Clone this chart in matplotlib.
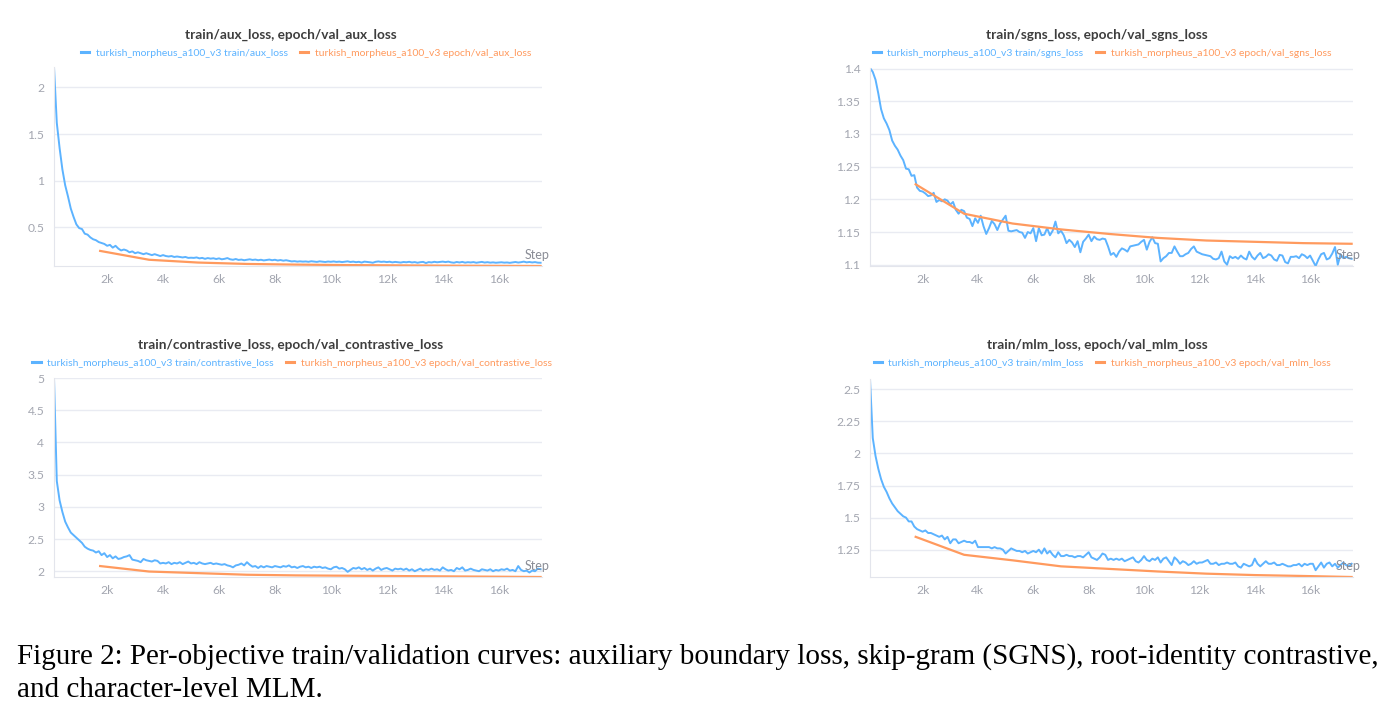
import numpy as np
import matplotlib
matplotlib.use("Agg")
import matplotlib.pyplot as plt
from matplotlib.ticker import FuncFormatter

plt.rcParams['font.family'] = ['Lato', 'DejaVu Sans']

# steps of the logged train values (every 100 steps) and of the validation epochs
train_steps = np.arange(100, 17600, 100)
val_steps = [1750, 3500, 5250, 7000, 8750, 10500, 12250, 14000, 15750, 17500]

aux_train = [
    2.22, 1.62, 1.35, 1.12, 0.95, 0.83, 0.70, 0.61, 0.53, 0.49,
    0.48, 0.43, 0.42, 0.39, 0.37, 0.36, 0.34, 0.33, 0.32, 0.30,
    0.31, 0.28, 0.30, 0.27, 0.25, 0.26, 0.25, 0.23, 0.24, 0.22,
    0.23, 0.22, 0.21, 0.22, 0.21, 0.20, 0.21, 0.20, 0.19, 0.20,
    0.19, 0.185, 0.19, 0.18, 0.185, 0.18, 0.175, 0.18, 0.17, 0.172,
    0.17, 0.175, 0.165, 0.17, 0.16, 0.168, 0.162, 0.166, 0.158, 0.165,
    0.155, 0.16, 0.168, 0.155, 0.15, 0.158, 0.148, 0.152, 0.145, 0.15,
    0.155, 0.148, 0.152, 0.145, 0.15, 0.143, 0.148, 0.152, 0.145, 0.15,
    0.142, 0.147, 0.14, 0.145, 0.138, 0.132, 0.135, 0.13, 0.133, 0.13,
    0.132, 0.128, 0.134, 0.13, 0.127, 0.133, 0.129, 0.126, 0.131, 0.128,
    0.132, 0.127, 0.13, 0.125, 0.129, 0.133, 0.126, 0.13, 0.124, 0.128,
    0.12, 0.13, 0.127, 0.123, 0.118, 0.128, 0.132, 0.127, 0.13, 0.125,
    0.129, 0.122, 0.127, 0.124, 0.12, 0.126, 0.123, 0.128, 0.121, 0.125,
    0.118, 0.124, 0.127, 0.115, 0.125, 0.121, 0.128, 0.123, 0.126, 0.13,
    0.125, 0.13, 0.122, 0.118, 0.126, 0.121, 0.127, 0.119, 0.124, 0.121,
    0.125, 0.118, 0.123, 0.127, 0.12, 0.124, 0.119, 0.122, 0.118, 0.12,
    0.123, 0.119, 0.121, 0.117, 0.122, 0.126, 0.12, 0.124, 0.13, 0.122,
    0.126, 0.121, 0.125, 0.119, 0.118,
]
aux_val = [0.245, 0.15, 0.12, 0.105, 0.098, 0.093, 0.09, 0.087, 0.085, 0.083]

sgns_train = [
    1.401, 1.395, 1.383, 1.362, 1.338, 1.324, 1.316, 1.306, 1.29, 1.282,
    1.276, 1.267, 1.26, 1.247, 1.246, 1.236, 1.237, 1.218, 1.213, 1.212,
    1.209, 1.205, 1.206, 1.21, 1.196, 1.199, 1.197, 1.2, 1.198, 1.192,
    1.196, 1.184, 1.178, 1.184, 1.182, 1.172, 1.17, 1.159, 1.171, 1.164,
    1.175, 1.159, 1.147, 1.156, 1.167, 1.162, 1.153, 1.163, 1.169, 1.175,
    1.152, 1.151, 1.152, 1.153, 1.15, 1.149, 1.141, 1.15, 1.148, 1.156,
    1.136, 1.156, 1.145, 1.146, 1.156, 1.145, 1.152, 1.166, 1.148, 1.152,
    1.145, 1.133, 1.138, 1.134, 1.127, 1.136, 1.119, 1.135, 1.14, 1.146,
    1.136, 1.143, 1.139, 1.138, 1.14, 1.139, 1.128, 1.115, 1.118, 1.112,
    1.12, 1.125, 1.123, 1.12, 1.128, 1.129, 1.13, 1.131, 1.135, 1.138,
    1.123, 1.135, 1.142, 1.133, 1.132, 1.105, 1.11, 1.113, 1.118, 1.118,
    1.128, 1.12, 1.113, 1.113, 1.116, 1.118, 1.124, 1.128, 1.12, 1.118,
    1.116, 1.115, 1.114, 1.113, 1.109, 1.108, 1.11, 1.12, 1.105, 1.1,
    1.113, 1.11, 1.112, 1.109, 1.114, 1.11, 1.108, 1.12, 1.112, 1.108,
    1.114, 1.118, 1.11, 1.112, 1.116, 1.114, 1.108, 1.106, 1.115, 1.114,
    1.104, 1.102, 1.112, 1.112, 1.113, 1.11, 1.116, 1.114, 1.11, 1.114,
    1.106, 1.098, 1.108, 1.116, 1.118, 1.108, 1.11, 1.117, 1.127, 1.1,
    1.116, 1.11, 1.112, 1.11, 1.109,
]
sgns_val = [1.223, 1.178, 1.163, 1.154, 1.147, 1.141, 1.137, 1.135, 1.133, 1.132]

contrastive_train = [
    5.0, 3.4, 3.1, 2.92, 2.77, 2.68, 2.6, 2.56, 2.52, 2.48,
    2.44, 2.38, 2.35, 2.33, 2.32, 2.29, 2.31, 2.25, 2.28, 2.22,
    2.25, 2.2, 2.23, 2.19, 2.2, 2.22, 2.23, 2.25, 2.18, 2.17,
    2.16, 2.14, 2.19, 2.17, 2.16, 2.15, 2.17, 2.16, 2.12, 2.13,
    2.12, 2.14, 2.11, 2.13, 2.12, 2.14, 2.11, 2.13, 2.15, 2.12,
    2.13, 2.11, 2.14, 2.12, 2.11, 2.12, 2.13, 2.11, 2.12, 2.11,
    2.1, 2.11, 2.09, 2.08, 2.06, 2.09, 2.1, 2.12, 2.09, 2.14,
    2.1, 2.07, 2.08, 2.05, 2.08, 2.06, 2.08, 2.07, 2.06, 2.08,
    2.07, 2.06, 2.08, 2.07, 2.09, 2.06, 2.07, 2.05, 2.07, 2.08,
    2.06, 2.07, 2.05, 2.07, 2.06, 2.07, 2.05, 2.06, 2.04, 2.03,
    2.06, 2.07, 2.04, 2.05, 2.03, 1.99, 2.02, 2.05, 2.04, 2.06,
    2.03, 2.05, 2.02, 2.04, 2.01, 2.04, 2.06, 2.02, 2.04, 2.05,
    2.03, 2.01, 2.04, 2.03, 2.04, 2.02, 2.04, 2.01, 2.03, 2.0,
    2.02, 2.04, 2.01, 2.03, 2.02, 2.04, 2.02, 2.03, 2.01, 2.06,
    2.03, 2.01, 2.02, 2.0, 2.05, 2.03, 2.06, 2.01, 2.02, 2.04,
    2.02, 2.01, 2.0, 2.03, 2.02, 2.01, 2.03, 2.0, 2.02, 2.01,
    2.03, 2.02, 2.04, 2.01, 2.02, 2.0, 2.08, 2.02, 2.0, 2.01,
    1.98, 2.01, 2.0, 2.04, 2.03,
]
contrastive_val = [2.08, 1.995, 1.97, 1.945, 1.935, 1.93, 1.925, 1.92, 1.915, 1.91]

mlm_train = [
    2.58, 2.12, 1.98, 1.88, 1.8, 1.74, 1.7, 1.65, 1.61, 1.58,
    1.55, 1.53, 1.51, 1.5, 1.47, 1.47, 1.43, 1.41, 1.40, 1.39,
    1.40, 1.38, 1.38, 1.37, 1.36, 1.35, 1.36, 1.33, 1.35, 1.30,
    1.33, 1.33, 1.3, 1.31, 1.32, 1.31, 1.31, 1.3, 1.32, 1.27,
    1.27, 1.27, 1.27, 1.27, 1.26, 1.27, 1.26, 1.26, 1.25, 1.22,
    1.24, 1.26, 1.25, 1.24, 1.24, 1.23, 1.24, 1.22, 1.23, 1.24,
    1.23, 1.25, 1.22, 1.26, 1.22, 1.24, 1.21, 1.19, 1.23, 1.2,
    1.2, 1.21, 1.2, 1.2, 1.19, 1.2, 1.2, 1.19, 1.21, 1.23,
    1.19, 1.18, 1.17, 1.19, 1.22, 1.21, 1.17, 1.18, 1.17, 1.18,
    1.17, 1.18, 1.16, 1.17, 1.18, 1.19, 1.16, 1.15, 1.17, 1.2,
    1.17, 1.16, 1.18, 1.17, 1.19, 1.15, 1.18, 1.19, 1.16, 1.13,
    1.19, 1.17, 1.14, 1.16, 1.15, 1.13, 1.14, 1.16, 1.14, 1.15,
    1.15, 1.16, 1.17, 1.14, 1.14, 1.15, 1.13, 1.14, 1.14, 1.15,
    1.14, 1.14, 1.15, 1.12, 1.11, 1.14, 1.13, 1.12, 1.13, 1.18,
    1.14, 1.12, 1.14, 1.16, 1.14, 1.14, 1.15, 1.13, 1.13, 1.14,
    1.13, 1.12, 1.12, 1.13, 1.13, 1.14, 1.12, 1.14, 1.13, 1.14,
    1.14, 1.09, 1.12, 1.15, 1.11, 1.14, 1.15, 1.12, 1.14, 1.11,
    1.13, 1.15, 1.13, 1.12, 1.14,
]
mlm_val = [1.35, 1.21, 1.167, 1.12, 1.1, 1.08, 1.063, 1.052, 1.045, 1.037]

run = "turkish_morpheus_a100_v3"
panels = [
    ("aux_loss", aux_train, aux_val, [0.5, 1, 1.5, 2]),
    ("sgns_loss", sgns_train, sgns_val, [1.1, 1.15, 1.2, 1.25, 1.3, 1.35, 1.4]),
    ("contrastive_loss", contrastive_train, contrastive_val, [2, 2.5, 3, 3.5, 4, 4.5, 5]),
    ("mlm_loss", mlm_train, mlm_val, [1.25, 1.5, 1.75, 2, 2.25, 2.5]),
]

BLUE = "#5cb3ff"
ORANGE = "#ff9a5e"
GRID = "#e9ebf2"
TICK = "#a3a6b0"

W, H = 1395, 724
fig = plt.figure(figsize=(W / 100, H / 100), dpi=100)

# pixel boxes: left, right, top, bottom
boxes = [(54, 542, 67, 266), (870, 1353, 68, 266),
         (54, 542, 378, 577), (870, 1353, 379, 577)]
title_pos = [(291, 35), (1097, 35), (291, 345), (1097, 345)]
legend_pos = [(306, 53), (1102, 53), (292, 363), (1102, 363)]

for (name, tr, va, yt), (l, r, t, b), (tx, ty), (lx, ly) in zip(panels, boxes, title_pos, legend_pos):
    ax = fig.add_axes([l / W, 1 - b / H, (r - l) / W, (b - t) / H])
    ax.plot(train_steps, tr, color=BLUE, lw=1.4, label=f"{run} train/{name}")
    ax.plot(val_steps, va, color=ORANGE, lw=1.6, label=f"{run} epoch/val_{name}")
    lo = min(min(tr), min(va))
    hi = max(max(tr), max(va))
    ax.set_ylim(lo, hi)
    ax.set_xlim(100, 17550)
    ax.set_yticks(yt)
    ax.yaxis.set_major_formatter(FuncFormatter(lambda v, p: f"{v:g}"))
    ax.set_xticks(range(2000, 17000, 2000))
    ax.xaxis.set_major_formatter(FuncFormatter(lambda v, p: f"{int(v / 1000)}k"))
    ax.tick_params(length=0, labelsize=8.7, labelcolor=TICK)
    ax.tick_params(axis="y", pad=7)
    ax.tick_params(axis="x", pad=6)
    ax.grid(axis="y", color=GRID, lw=1)
    ax.set_axisbelow(True)
    for s in ["top", "right"]:
        ax.spines[s].set_visible(False)
    for s in ["left", "bottom"]:
        ax.spines[s].set_color("#e3e5ec")
    ax.text(0.99, 0.055, "Step", transform=ax.transAxes, ha="center", va="center",
            fontsize=9, color="#8a8d96")
    fig.text(tx / W, 1 - ty / H, f"train/{name}, epoch/val_{name}", ha="center", va="center",
             fontsize=9.8, fontweight="bold", color="#3d3d3d")
    leg = ax.legend(loc="center", bbox_to_anchor=(lx / W, 1 - ly / H), bbox_transform=fig.transFigure,
                    ncol=2, frameon=False, fontsize=7.5, handlelength=0.8, handletextpad=0.6,
                    columnspacing=1.2, borderpad=0)
    for line, txt in zip(leg.get_lines(), leg.get_texts()):
        line.set_linewidth(2.2)
        txt.set_color(line.get_color())

caption1 = ("Figure 2: Per-objective train/validation curves: auxiliary boundary loss, "
            "skip-gram (SGNS), root-identity contrastive,")
caption2 = "and character-level MLM."
fig.text(17 / W, 1 - 657 / H, caption1, ha="left", va="center", fontsize=21,
         family="Liberation Serif", color="black")
fig.text(17 / W, 1 - 690 / H, caption2, ha="left", va="center", fontsize=21,
         family="Liberation Serif", color="black")

fig.savefig("out.png", dpi=100)
